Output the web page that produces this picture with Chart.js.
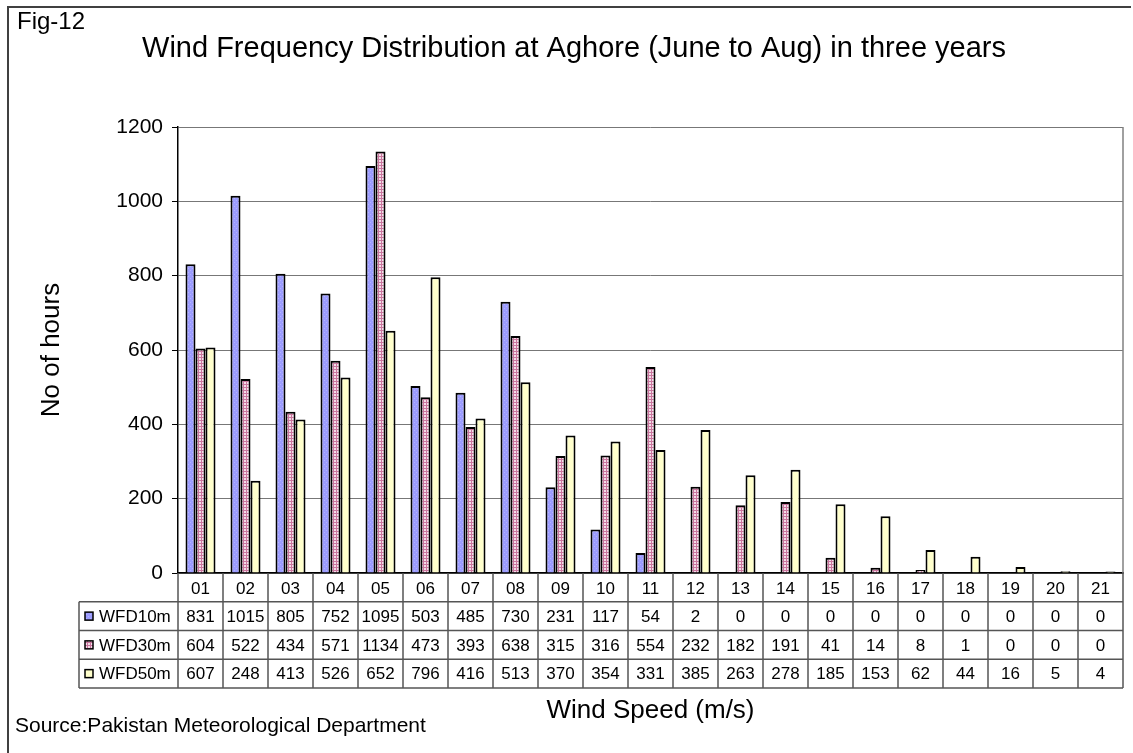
<!DOCTYPE html>
<html>
<head>
<meta charset="utf-8">
<script src="https://cdn.jsdelivr.net/npm/chart.js@4/dist/chart.umd.min.js"></script>
<style>
html,body{margin:0;padding:0;background:#fff;}
canvas{display:block;}
</style>
</head>
<body>
<canvas id="c" width="1133" height="753"></canvas>
<script>
const categories = ['01','02','03','04','05','06','07','08','09','10','11','12','13','14','15','16','17','18','19','20','21'];
const seriesNames = ['WFD10m','WFD30m','WFD50m'];
const wfd10m = [831,1015,805,752,1095,503,485,730,231,117,54,2,0,0,0,0,0,0,0,0,0];
const wfd30m = [604,522,434,571,1134,473,393,638,315,316,554,232,182,191,41,14,8,1,0,0,0];
const wfd50m = [607,248,413,526,652,796,416,513,370,354,331,385,263,278,185,153,62,44,16,5,4];
const yTicks = [0,200,400,600,800,1000,1200];
const chartTitle = 'Wind Frequency Distribution at Aghore (June to Aug) in three years';
const figLabel = 'Fig-12';
const sourceText = 'Source:Pakistan Meteorological Department';
const yTitle = 'No of hours';
const xTitle = 'Wind Speed (m/s)';

const FONT = '"Liberation Sans", Arial, sans-serif';

function makePattern(kind){
  const c = document.createElement('canvas');
  const g = c.getContext('2d');
  if (kind === 'blue'){
    c.width = 4; c.height = 4;
    g.fillStyle = '#9C9CFF'; g.fillRect(0,0,4,4);
    g.fillStyle = '#B4B4FF'; g.fillRect(0,0,1,1); g.fillRect(2,2,1,1);
  } else if (kind === 'pink'){
    c.width = 3; c.height = 3;
    g.fillStyle = '#F4DCE8'; g.fillRect(0,0,3,3);
    g.fillStyle = '#C9769E'; g.fillRect(0,0,3,1); g.fillRect(0,0,1,3);
  } else {
    c.width = 2; c.height = 2;
    g.fillStyle = '#FFFFCC'; g.fillRect(0,0,2,2);
  }
  return g.createPattern(c,'repeat');
}
const fills = [makePattern('blue'), makePattern('pink'), makePattern('yellow')];
const seriesData = [wfd10m, wfd30m, wfd50m];

const tablePlugin = {
  id: 'tableAndText',
  afterDraw(chart){
    const ctx = chart.ctx, xs = chart.scales.x, ca = chart.chartArea;
    const n = categories.length;
    const w = (ca.right - ca.left) / n;
    const top = ca.bottom;
    const rowH = 28.75;
    const bottom = top + 4*rowH;
    const tableLeft = 79;
    ctx.save();
    // plot area right border
    ctx.strokeStyle = '#808080'; ctx.lineWidth = 1.5;
    ctx.beginPath(); ctx.moveTo(ca.right, ca.top); ctx.lineTo(ca.right, ca.bottom); ctx.stroke();
    // table grid
    ctx.strokeStyle = '#555'; ctx.lineWidth = 1.5;
    ctx.beginPath();
    for (let r = 1; r <= 4; r++){
      const y = top + r*rowH;
      ctx.moveTo(tableLeft, y); ctx.lineTo(ca.right, y);
    }
    for (let i = 0; i <= n; i++){
      const x = (i < n ? xs.getPixelForValue(i) - w/2 : xs.getPixelForValue(n-1) + w/2);
      ctx.moveTo(x, top); ctx.lineTo(x, bottom);
    }
    ctx.moveTo(tableLeft, top + rowH); ctx.lineTo(tableLeft, bottom);
    ctx.stroke();
    // values
    ctx.fillStyle = '#000';
    ctx.font = '17px ' + FONT;
    ctx.textAlign = 'center'; ctx.textBaseline = 'middle';
    seriesData.forEach((arr, r) => {
      const yc = top + (r + 1.5)*rowH;
      arr.forEach((v, i) => ctx.fillText(String(v), xs.getPixelForValue(i), yc + 1));
      // legend key
      ctx.fillStyle = fills[r];
      ctx.fillRect(85, yc - 4, 8, 8);
      ctx.strokeStyle = '#000'; ctx.lineWidth = 1.5;
      ctx.strokeRect(85, yc - 4, 8, 8);
      ctx.fillStyle = '#000';
      ctx.textAlign = 'left';
      ctx.fillText(seriesNames[r], 99, yc + 1);
      ctx.textAlign = 'center';
    });
    // frame
    ctx.strokeStyle = '#404040'; ctx.lineWidth = 2;
    ctx.beginPath(); ctx.moveTo(8, 753); ctx.lineTo(8, 7); ctx.lineTo(1131, 7); ctx.stroke();
    // texts
    ctx.fillStyle = '#000';
    ctx.textAlign = 'center'; ctx.textBaseline = 'middle';
    ctx.font = '29px ' + FONT;
    ctx.fillText(chartTitle, 574, 49);
    ctx.textAlign = 'left';
    ctx.font = '24px ' + FONT;
    ctx.fillText(figLabel, 17, 22);
    ctx.font = '21px ' + FONT;
    ctx.fillText(sourceText, 15, 726);
    ctx.restore();
  }
};

new Chart(document.getElementById('c'), {
  type: 'bar',
  data: {
    labels: categories,
    datasets: seriesNames.map((name, i) => ({
      label: name,
      data: seriesData[i],
      backgroundColor: fills[i],
      borderColor: '#000',
      borderWidth: 2,
      categoryPercentage: 0.667,
      barPercentage: 1.0
    }))
  },
  options: {
    responsive: false,
    animation: false,
    layout: { padding: { left: 0, top: 127, right: 10, bottom: 27 } },
    plugins: { legend: { display: false }, tooltip: { enabled: false }, title: { display: false } },
    scales: {
      x: {
        grid: { display: false, drawTicks: false },
        border: { display: true, color: '#000', width: 1.5 },
        ticks: { color: '#000', font: { family: FONT, size: 17 }, padding: 6, maxRotation: 0, autoSkip: false },
        title: { display: true, text: xTitle, color: '#000', font: { family: FONT, size: 26 }, padding: 0 },
        afterFit(s){ s.height = 153; }
      },
      y: {
        min: 0, max: 1200,
        afterBuildTicks(s){ s.ticks = yTicks.map(v => ({ value: v })); },
        grid: { color: '#777', lineWidth: 1, tickLength: 6, tickColor: '#000' },
        border: { display: true, color: '#000', width: 1.5 },
        ticks: { color: '#000', font: { family: FONT, size: 21 }, padding: 9, callback: v => String(v) },
        title: { display: true, text: yTitle, color: '#000', font: { family: FONT, size: 26 }, padding: { top: 36, bottom: 0 } },
        afterFit(s){ s.width = 178; }
      }
    }
  },
  plugins: [tablePlugin]
});
</script>
</body>
</html>
